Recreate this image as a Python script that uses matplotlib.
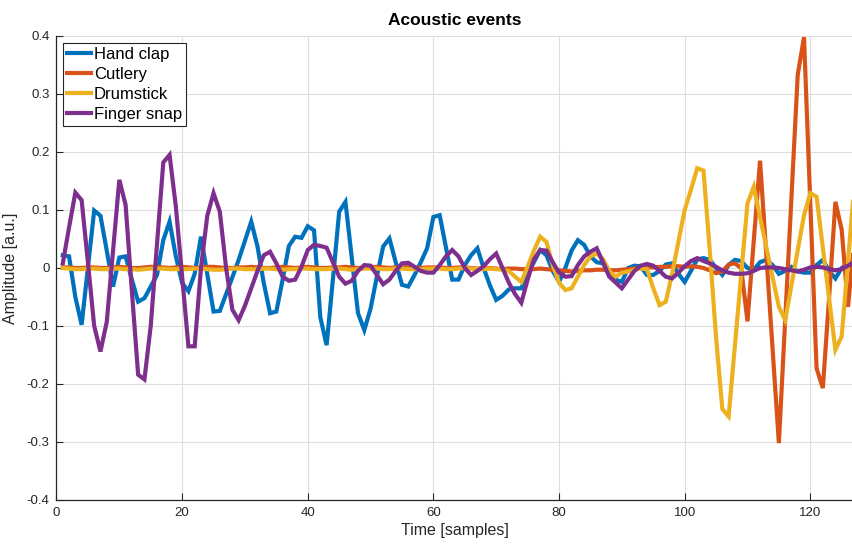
import matplotlib
matplotlib.use("Agg")
import matplotlib.pyplot as plt
import numpy as np

# amplitude of each event, one value per sample (samples 1..128)
hand_clap = [
    0.022, 0.02, -0.05, -0.098, 0.0, 0.099, 0.09, 0.03, -0.032, 0.018,
    0.02, -0.02, -0.058, -0.052, -0.032, -0.012, 0.048, 0.08, 0.02, -0.026,
    -0.04, -0.01, 0.054, -0.01, -0.075, -0.074, -0.045, -0.016, 0.014, 0.047,
    0.08, 0.037, -0.026, -0.078, -0.075, -0.02, 0.038, 0.054, 0.052, 0.072,
    0.065, -0.085, -0.133, -0.02, 0.097, 0.114, 0.018, -0.078, -0.107, -0.07,
    -0.015, 0.037, 0.051, 0.01, -0.029, -0.032, -0.012, 0.01, 0.034, 0.088,
    0.091, 0.035, -0.02, -0.02, 0.005, 0.022, 0.034, 0.0, -0.03, -0.055,
    -0.048, -0.037, -0.035, -0.035, -0.01, 0.01, 0.031, 0.022, -0.005, -0.024,
    0.0, 0.03, 0.048, 0.04, 0.02, 0.01, 0.008, -0.01, -0.02, -0.024,
    0.0, 0.004, 0.003, -0.012, -0.012, -0.005, 0.006, 0.008, -0.01, -0.024,
    -0.005, 0.015, 0.017, 0.014, 0.0, -0.012, 0.005, 0.014, 0.012, 0.0,
    -0.003, 0.01, 0.014, 0.005, -0.01, -0.005, 0.002, -0.006, -0.008, -0.008,
    0.005, 0.014, -0.005, -0.018, 0.0, 0.007, 0.01, 0.01,
]

cutlery = [
    0.001, 0.001, 0.0, 0.0, 0.001, 0.001, 0.0, 0.0, 0.001, 0.002,
    0.001, 0.0, 0.0, 0.001, 0.002, 0.002, 0.001, 0.0, 0.001, 0.002,
    0.001, 0.0, 0.001, 0.002, 0.002, 0.001, 0.0, 0.0, 0.001, 0.001,
    0.002, 0.001, 0.0, 0.0, 0.001, 0.002, 0.001, 0.0, 0.001, 0.002,
    0.001, 0.0, 0.0, 0.001, 0.001, 0.002, 0.001, 0.0, 0.0, 0.001,
    0.002, 0.001, 0.0, 0.001, 0.001, 0.002, 0.001, 0.0, 0.001, 0.001,
    0.001, 0.0, 0.0, 0.001, 0.001, 0.0, -0.001, -0.001, 0.0, -0.001,
    -0.002, -0.001, -0.001, -0.002, -0.002, -0.002, -0.001, -0.002, -0.003, -0.004,
    -0.005, -0.006, -0.005, -0.004, -0.004, -0.003, -0.003, -0.004, -0.004, -0.003,
    -0.002, -0.001, 0.0, 0.001, 0.001, 0.002, 0.002, 0.003, 0.003, 0.002,
    0.003, 0.002, 0.0, -0.004, -0.009, -0.006, 0.006, 0.008, 0.0, -0.092,
    0.047, 0.185, 0.023, -0.14, -0.302, -0.09, 0.12, 0.333, 0.398, 0.11,
    -0.173, -0.207, -0.05, 0.114, 0.066, -0.067, 0.045, 0.05,
]

drumstick = [
    0.0, -0.001, -0.002, -0.002, -0.001, -0.001, -0.002, -0.002, -0.001, -0.001,
    -0.002, -0.002, -0.003, -0.002, -0.001, -0.001, -0.001, -0.002, -0.002, -0.002,
    -0.002, -0.001, -0.001, -0.002, -0.003, -0.003, -0.002, -0.001, -0.001, -0.002,
    -0.002, -0.002, -0.001, -0.001, -0.002, -0.003, -0.002, -0.002, -0.001, -0.001,
    -0.002, -0.002, -0.002, -0.001, -0.001, -0.002, -0.003, -0.002, -0.001, -0.001,
    -0.001, -0.002, -0.002, -0.001, -0.001, -0.002, -0.002, -0.002, -0.001, -0.001,
    -0.001, -0.002, -0.002, -0.001, 0.0, -0.001, -0.002, -0.002, -0.001, -0.002,
    -0.003, -0.005, -0.015, -0.024, 0.002, 0.03, 0.054, 0.045, 0.005, -0.025,
    -0.038, -0.035, -0.015, 0.005, 0.02, 0.025, 0.015, -0.005, -0.015, -0.008,
    -0.006, -0.003, -0.001, -0.002, -0.035, -0.064, -0.058, -0.01, 0.045, 0.1,
    0.135, 0.172, 0.168, 0.03, -0.12, -0.243, -0.256, -0.134, -0.012, 0.111,
    0.14, 0.088, 0.036, -0.016, -0.067, -0.09, -0.03, 0.03, 0.091, 0.129,
    0.123, 0.035, -0.053, -0.141, -0.118, 0.01, 0.14, 0.15,
]

finger_snap = [
    0.008, 0.07, 0.13, 0.117, 0.01, -0.1, -0.144, -0.093, 0.03, 0.152,
    0.109, -0.04, -0.184, -0.192, -0.1, 0.04, 0.182, 0.195, 0.106, -0.015,
    -0.135, -0.135, 0.0, 0.09, 0.129, 0.097, 0.0, -0.072, -0.09, -0.065,
    -0.035, -0.005, 0.022, 0.028, 0.008, -0.015, -0.022, -0.02, 0.002, 0.031,
    0.04, 0.038, 0.035, 0.01, -0.015, -0.027, -0.022, -0.005, 0.005, 0.004,
    -0.012, -0.028, -0.02, -0.005, 0.008, 0.009, 0.002, -0.005, -0.008, -0.008,
    0.005, 0.02, 0.031, 0.02, 0.0, -0.012, -0.005, 0.003, 0.015, 0.025,
    0.0, -0.025, -0.045, -0.06, -0.02, 0.015, 0.031, 0.03, 0.01, -0.008,
    -0.015, -0.014, 0.005, 0.02, 0.028, 0.034, 0.01, -0.015, -0.025, -0.035,
    -0.02, -0.005, 0.004, 0.007, 0.004, -0.005, -0.015, -0.018, -0.008, 0.003,
    0.012, 0.017, 0.012, 0.008, 0.002, -0.004, -0.008, -0.01, -0.01, -0.009,
    -0.005, 0.0, 0.001, 0.001, 0.0, -0.002, -0.004, -0.006, -0.003, 0.001,
    0.002, 0.001, -0.002, -0.004, -0.002, 0.004, 0.01, 0.012,
]

labels = ["Hand clap", "Cutlery", "Drumstick", "Finger snap"]
colors = ["#0072BD", "#D95319", "#EDB120", "#7E2F8E"]
samples = np.arange(1, len(hand_clap) + 1)

y_ticks = [-0.4, -0.3, -0.2, -0.1, 0.0, 0.1, 0.2, 0.3, 0.4]
x_ticks = [0, 20, 40, 60, 80, 100, 120]

plt.rcParams["font.family"] = ["Liberation Sans", "DejaVu Sans"]
plt.rcParams["axes.unicode_minus"] = False
dark = "#262626"

fig = plt.figure(figsize=(8.53, 5.45), dpi=100)
ax = fig.add_axes([56.5 / 853, 45 / 545, 1 - 56.5 / 853, 464 / 545])

for series, name, c in zip([hand_clap, cutlery, drumstick, finger_snap], labels, colors):
    ax.plot(samples, series, color=c, lw=3, label=name, solid_joinstyle="miter")

ax.set_xlim(0, 126.8)
ax.set_ylim(-0.4, 0.4)
ax.set_xticks(x_ticks)
ax.set_yticks(y_ticks)
ax.set_yticklabels(["0" if v == 0 else f"{v:g}" for v in y_ticks])
ax.grid(True, color="#dedede", lw=0.8)
ax.set_axisbelow(True)

for side in ["top", "right"]:
    ax.spines[side].set_visible(False)
for side in ["left", "bottom"]:
    ax.spines[side].set_color(dark)
    ax.spines[side].set_linewidth(0.9)
ax.tick_params(direction="in", length=5, width=0.8, colors=dark, labelsize=9.5, pad=5)

ax.set_xlabel("Time [samples]", fontsize=11.5, color=dark, labelpad=3)
ax.set_ylabel("Amplitude [a.u.]", fontsize=11.5, color=dark, labelpad=6)
ax.set_title("Acoustic events", fontsize=12.5, fontweight="bold", pad=8)

leg = ax.legend(loc="upper left", fontsize=12, frameon=True, fancybox=False,
                framealpha=1, edgecolor=dark, borderaxespad=0.4, borderpad=0.25,
                labelspacing=0.3, handlelength=1.4, handletextpad=0.2)
leg.get_frame().set_linewidth(0.8)

fig.savefig("out.png", dpi=100)
